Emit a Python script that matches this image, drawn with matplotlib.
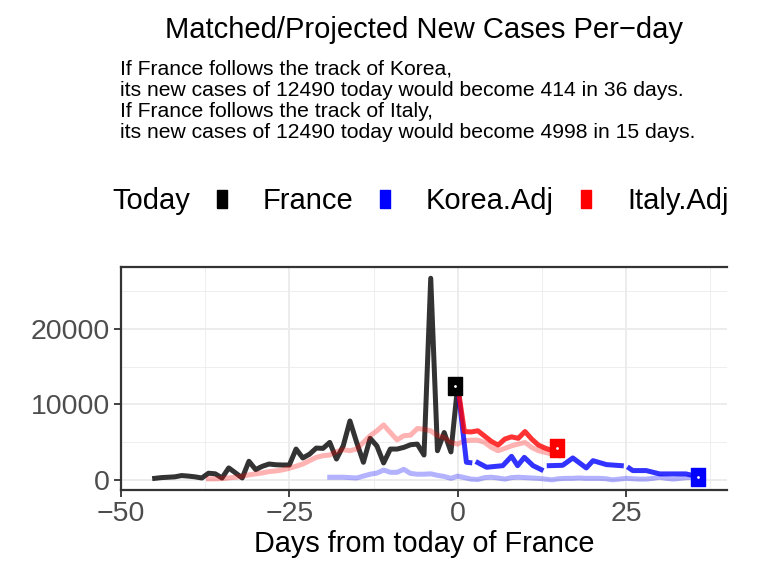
import numpy as np
import matplotlib
matplotlib.use("Agg")
import matplotlib.pyplot as plt
from matplotlib.lines import Line2D

plt.rcParams['font.family'] = ['Liberation Sans', 'DejaVu Sans']

# France, dias -45..0
france_days = list(range(-45, 1))
france_cases = [200, 300, 350, 400, 570, 500, 400, 250, 880, 800, 250, 1580, 930, 250,
                2460, 1360, 1800, 2100, 2000, 1970, 1970, 4080, 2900, 3400, 4210, 4170,
                4960, 2760, 4500, 7800, 4960, 2330, 5500, 4500, 2240, 4080, 4080, 4300,
                4650, 4740, 3290, 26700, 3860, 6270, 3700, 12490]

# Italia (trayectoria original alineada)
italy_days = list(range(-37, 16))
italy_cases = [130, 130, 170, 260, 350, 480, 660, 790, 920, 1100, 1180, 1320, 1540, 1800,
               2100, 2540, 2980, 3200, 3290, 3730, 4000, 3860, 4080, 4960, 5840, 6490, 7280,
               6270, 5300, 5840, 5920, 6800, 6710, 6490, 5840, 5620, 4960, 4740, 5170, 5260,
               5260, 4960, 4300, 3860, 4170, 4510, 4740, 4960, 4300, 3860, 3640, 3420, 3200]

# Corea (trayectoria original alineada)
korea_days = list(range(-19, 36))
korea_cases = [350, 350, 350, 300, 250, 500, 750, 900, 1300, 1000, 1000, 1400, 850, 750,
               750, 800, 600, 450, 200, 500, 300, 100, 50, 300, 350, 250, 100, 300, 350,
               300, 250, 200, 100, 0, 150, 200, 200, 250, 200, 200, 200, 150, 0, 100, 200,
               150, 100, 100, 200, 350, 200, 100, 200, 300, 350]

# Proyecciones
italy_adj_days = [0, 1, 2, 3, 4, 5, 6, 7, 8, 9, 10, 11, 12, 13, 14, 14.7]
italy_adj_cases = [12490, 6400, 6350, 6500, 5800, 5100, 4600, 5400, 5700, 5500, 6400,
                   5400, 4600, 4200, 3900, 4250]
korea_adj_days = [0, 1.3, 1.8, np.nan, 3.0, 4.3, 6.7, 8.0, 8.9, 9.9, 11.2, 12.4, np.nan,
                  13.6, 15.6, 17.1, 19.1, 20.1, 22.1, 24.3, np.nan, 25.5, 26, 28, 30, 33.9, 35.7]
korea_adj_cases = [12490, 2330, 2280, np.nan, 2280, 1670, 1880, 3120, 1880, 2980, 1880, 1360,
                   np.nan, 1880, 1930, 2900, 1580, 2540, 2020, 1880, np.nan, 1540, 1230, 1230,
                   790, 790, 414]

today_days = [-0.4, 35.7, 14.7]
today_cases = [12490, 414, 4250]
today_colors = ['black', 'blue', 'red']

title = 'Matched/Projected New Cases Per\u2212day'
subtitle = ['If France follows the track of Korea,',
            'its new cases of 12490 today would become 414 in 36 days.',
            'If France follows the track of Italy,',
            'its new cases of 12490 today would become 4998 in 15 days.']

box = [(-0.38, -0.5), (0.38, -0.5), (0.38, 0.5), (-0.38, 0.5), (-0.38, -0.5)]
key = [(-0.28, -0.5), (0.28, -0.5), (0.28, 0.5), (-0.28, 0.5), (-0.28, -0.5)]

fig = plt.figure(figsize=(7.62, 5.71), dpi=100)
ax = fig.add_axes([121 / 762, 1 - 490 / 571, 606 / 762, 223 / 571])

lw = 3.6
ax.plot(france_days, france_cases, color='black', alpha=0.8, lw=lw, solid_joinstyle='round', zorder=3)
ax.plot(korea_days, korea_cases, color='blue', alpha=0.3, lw=lw, solid_joinstyle='round', zorder=3)
ax.plot(italy_days, italy_cases, color='red', alpha=0.3, lw=lw, solid_joinstyle='round', zorder=3)
ax.plot(korea_adj_days, korea_adj_cases, color='blue', alpha=0.8, lw=lw, solid_joinstyle='round', zorder=4)
ax.plot(italy_adj_days, italy_adj_cases, color='red', alpha=0.8, lw=lw, solid_joinstyle='round', zorder=4)

for d, c, col in zip(today_days, today_cases, today_colors):
    ax.plot(d, c, marker=box, ms=13, color=col, mec=col, ls='none', zorder=5)
    ax.plot(d, c, marker='.', ms=2, color='white', ls='none', zorder=6)

ax.set_xlim(-50, 40)
ax.set_ylim(-1342, 28190)
ax.set_xticks([-50, -25, 0, 25])
ax.set_xticklabels(['\u221250', '\u221225', '0', '25'])
ax.set_yticks([0, 10000, 20000])
ax.set_xticks([-37.5, -12.5, 12.5, 37.5], minor=True)
ax.set_yticks([5000, 15000, 25000], minor=True)
ax.grid(which='major', color='#EBEBEB', lw=1.3)
ax.grid(which='minor', color='#EBEBEB', lw=0.6)
ax.set_axisbelow(True)
ax.tick_params(which='major', length=5, width=1.3, color='#333333', labelsize=20.5,
               labelcolor='#4D4D4D', pad=3)
ax.tick_params(which='minor', length=0)
for s in ['left', 'bottom', 'top']:
    ax.spines[s].set_color('#333333')
    ax.spines[s].set_linewidth(1.6)
ax.spines['right'].set_visible(False)
ax.set_xlabel('Days from today of France', fontsize=20.8, labelpad=2)

fig.text(424 / 762, 1 - 30 / 571, title, ha='center', va='center', fontsize=21)
for i, line in enumerate(subtitle):
    fig.text(120 / 762, 1 - (69 + 21.3 * i) / 571, line, ha='left', va='center', fontsize=15.2)

# leyenda
fig.text(112 / 762, 1 - 201 / 571, 'Today', ha='left', va='center', fontsize=21)
handles = [Line2D([], [], marker=key, ms=13, color=c, mec=c, ls='none') for c in today_colors]
fig.legend(handles, ['France', 'Korea.Adj', 'Italy.Adj'], ncol=3, frameon=False,
           loc='center left', bbox_to_anchor=(207 / 762, 1 - 201 / 571), fontsize=21,
           handlelength=1.0, handletextpad=0.9, columnspacing=0.6, borderaxespad=0,
           borderpad=0)

fig.savefig('out.png', dpi=100)
